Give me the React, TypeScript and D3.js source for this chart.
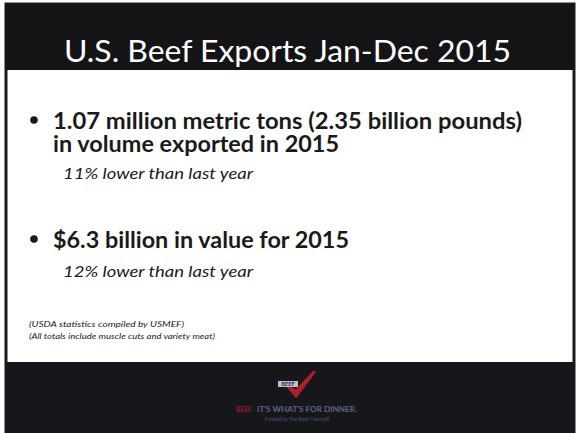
import * as d3 from 'd3';

// slide content
const title = 'U.S. Beef Exports Jan-Dec 2015';
const bulletLines = [
	['1.07 million metric tons (2.35 billion pounds)', 'in volume exported in 2015'],
	['$6.3 billion in value for 2015'],
];
const bulletNotes = ['11% lower than last year', '12% lower than last year'];
const footnotes = [
	'(USDA statistics compiled by USMEF)',
	'(All totals include muscle cuts and variety meat)',
];
const logoText = ['BEEF.', "IT'S WHAT'S FOR DINNER."];
const logoSub = 'Funded by The Beef Checkoff';

const W = 578;
const H = 433;
const FONT = 'Lato, "Open Sans", sans-serif';

// fitted widths (px)
const lineWidths = [[469, 286], [296]];
const noteWidths = [190, 190];
const footWidths = [155, 186];

export default function App() {
	const checkPath = d3.line()([
		[286, 384],
		[296, 396],
		[314, 372],
		[297, 390],
	]);

	const bulletY = [129, 248];
	const noteY = [179, 277];

	return (
		<svg
			width={W}
			height={H}
			style={{ position: 'absolute', left: 0, top: 0, background: '#fff' }}>
			{/* slide frame */}
			<rect x={6} y={4} width={568} height={429} fill='#fff' stroke='#1a1a1c' strokeWidth={3} />
			{/* title band */}
			<rect x={5} y={4} width={569} height={66} fill='#141416' />
			<text
				x={64}
				y={62}
				fill='#fff'
				fontFamily={FONT}
				fontSize={31}
				textLength={447}
				lengthAdjust='spacingAndGlyphs'>
				{title}
			</text>

			{/* bullets */}
			{bulletLines.map((lines, i) => (
				<g key={i}>
					<circle cx={34} cy={bulletY[i] - 9} r={3.8} fill='#1a1a1a' />
					{lines.map((line, j) => (
						<text
							key={j}
							x={53}
							y={bulletY[i] + j * 23}
							fill='#1a1a1a'
							fontFamily={FONT}
							fontWeight='bold'
							fontSize={22}
							textLength={lineWidths[i][j]}
							lengthAdjust='spacingAndGlyphs'>
							{line}
						</text>
					))}
					<text
						x={63}
						y={noteY[i]}
						fill='#1a1a1a'
						fontFamily={FONT}
						fontStyle='italic'
						fontSize={16}
						textLength={noteWidths[i]}
						lengthAdjust='spacingAndGlyphs'>
						{bulletNotes[i]}
					</text>
				</g>
			))}

			{/* footnotes */}
			{footnotes.map((f, i) => (
				<text
					key={i}
					x={29}
					y={327 + i * 12}
					fill='#1a1a1a'
					fontFamily={FONT}
					fontStyle='italic'
					fontSize={8.5}
					textLength={footWidths[i]}
					lengthAdjust='spacingAndGlyphs'>
					{f}
				</text>
			))}

			{/* footer band */}
			<rect x={5} y={362} width={569} height={71} fill='#16171b' />
			<g opacity={0.85}>
				<path d={checkPath} fill='#c8202c' stroke='#c8202c' strokeWidth={3} strokeLinejoin='round' />
				<rect x={278} y={381} width={20} height={6} fill='#dcdce6' />
				<text x={288} y={386} textAnchor='middle' fontFamily={FONT} fontWeight='bold' fontSize={5.5} fill='#2a2f6e'>
					BEEF
				</text>
				<text x={236} y={412} fontFamily={FONT} fontWeight='bold' fontSize={6.5} fill='#b21e2c'>
					{logoText[0]}
				</text>
				<text x={257} y={412} fontFamily={FONT} fontWeight='bold' fontSize={6.5} fill='#6d71a0' textLength={100} lengthAdjust='spacingAndGlyphs'>
					{logoText[1]}
				</text>
				<text x={297} y={421} textAnchor='middle' fontFamily={FONT} fontSize={5} fill='#565b85'>
					{logoSub}
				</text>
			</g>
		</svg>
	);
}
